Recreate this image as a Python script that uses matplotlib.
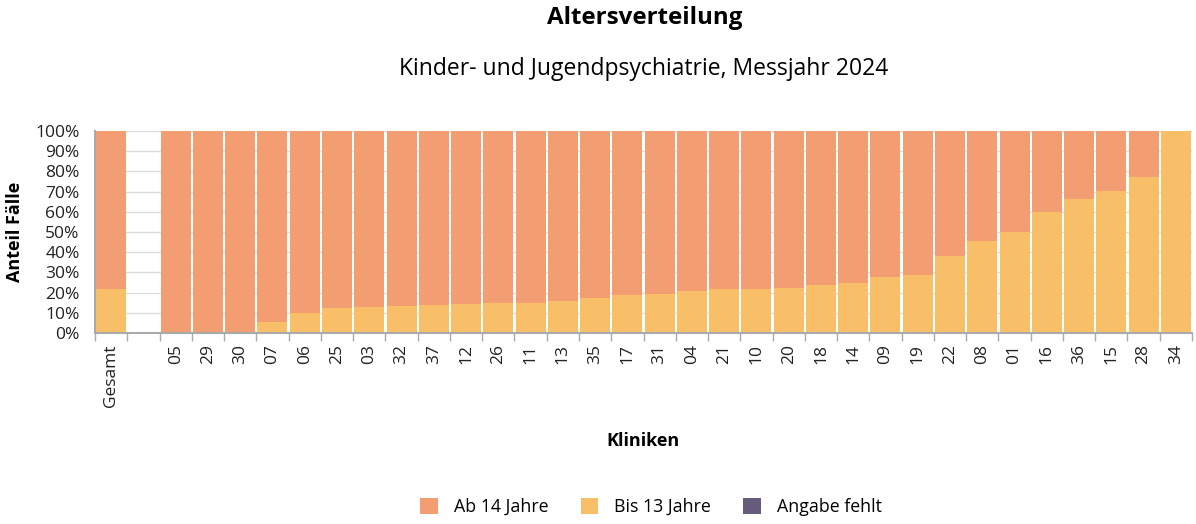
import numpy as np
import matplotlib.pyplot as plt
from matplotlib.ticker import FixedLocator, PercentFormatter

plt.rcParams['font.family'] = ['Open Sans', 'DejaVu Sans']

# categories: overall bar, empty spacer slot, then clinics sorted by share
kliniken = ["Gesamt", "", "05", "29", "30", "07", "06", "25", "03", "32", "37",
            "12", "26", "11", "13", "35", "17", "31", "04", "21", "10", "20",
            "18", "14", "09", "19", "22", "08", "01", "16", "36", "15", "28", "34"]

# share of cases (percent)
bis_13 = [22.0, 0.0, 0.0, 0.0, 0.0, 5.6, 9.8, 12.3, 12.9, 13.3, 13.9,
          14.4, 14.9, 15.0, 15.9, 17.5, 18.9, 19.4, 20.9, 21.8, 21.8, 22.5,
          23.7, 24.7, 27.5, 28.8, 38.1, 45.5, 50.1, 59.7, 66.5, 70.5, 77.0, 100.0]
fehlt = [0.0] * len(kliniken)
ab_14 = [0.0 if k == "" else 100.0 - b - f for k, b, f in zip(kliniken, bis_13, fehlt)]

c_ab14 = "#F39D73"
c_bis13 = "#F9BF68"
c_fehlt = "#655C7B"

fig = plt.figure(figsize=(11.96, 5.24), dpi=100)
ax = fig.add_axes([95 / 1196, 1 - 333 / 524, (1192 - 95) / 1196, (333 - 131) / 524])

x = np.arange(len(kliniken))
w = 0.93
ax.bar(x, bis_13, width=w, color=c_bis13, label="Bis 13 Jahre", zorder=2)
ax.bar(x, fehlt, width=w, bottom=bis_13, color=c_fehlt, label="Angabe fehlt", zorder=2)
ax.bar(x, ab_14, width=w, bottom=np.array(bis_13) + np.array(fehlt),
       color=c_ab14, label="Ab 14 Jahre", zorder=2)

ax.set_xlim(-0.5, len(kliniken) - 0.5)
ax.set_ylim(0, 100)
ax.yaxis.set_major_locator(FixedLocator(np.arange(0, 101, 10)))
ax.yaxis.set_major_formatter(PercentFormatter(decimals=0))
ax.grid(axis="y", color="#dddddd", linewidth=1, zorder=0)
ax.tick_params(axis="y", length=0, labelsize=12.5, pad=11, labelcolor="#222222")

ax.set_xticks(x)
ax.set_xticklabels(kliniken, rotation=90, fontsize=12.5, color="#222222")
ax.tick_params(axis="x", which="major", length=0, pad=8)
ax.set_xticks(np.arange(-0.5, len(kliniken), 1), minor=True)
ax.tick_params(axis="x", which="minor", length=6, color="#aaaaaa", width=1)

for s in ["top", "right"]:
    ax.spines[s].set_visible(False)
for s in ["left", "bottom"]:
    ax.spines[s].set_color("#aaaaaa")
    ax.spines[s].set_linewidth(1.5)

ax.set_ylabel("Anteil Fälle", fontsize=13, fontweight="bold", labelpad=8)
ax.set_xlabel("Kliniken", fontsize=13, fontweight="bold", labelpad=18)

fig.text(645 / 1196, 1 - 18 / 524, "Altersverteilung", ha="center", va="center",
         fontsize=17.4, fontweight="bold")
fig.text(644 / 1196, 1 - 69 / 524, "Kinder- und Jugendpsychiatrie, Messjahr 2024",
         ha="center", va="center", fontsize=16.5)

h, l = ax.get_legend_handles_labels()
order = [2, 0, 1]
fig.legend([h[i] for i in order], [l[i] for i in order], loc="center",
           bbox_to_anchor=(651 / 1196, 1 - 507 / 524), ncol=3, frameon=False,
           fontsize=12.8, handlelength=1.0, handleheight=1.0, columnspacing=1.8,
           handletextpad=0.9)

fig.savefig("out.png", dpi=100)
